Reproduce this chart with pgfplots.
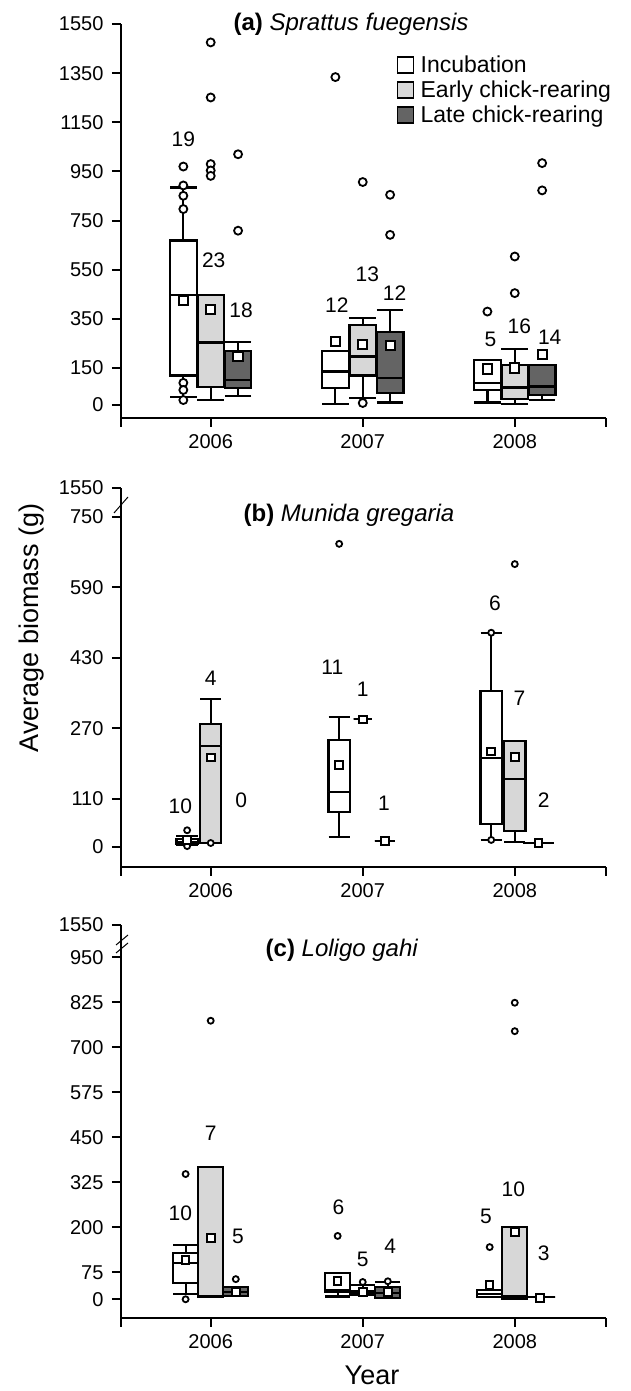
\documentclass[border=0pt]{standalone}
\usepackage{fontspec}
\setmainfont{Liberation Sans}
\usepackage{pgfplots}
\pgfplotsset{compat=1.18}
\usepgfplotslibrary{statistics}
\definecolor{lg}{RGB}{215,215,215}
\definecolor{dg}{RGB}{100,100,100}
\newcommand{\fs}[1]{\fontsize{#1}{#1}\selectfont}
\tikzset{nlab/.style={font=\fs{21}}}
% \bx{pos}{lw}{q1}{med}{q3}{uw}{fill}{extend}
\newcommand{\bx}[8]{\addplot[draw=black, line width=2.2pt, fill=#7,
  boxplot prepared={draw position=#1, lower whisker=#2, lower quartile=#3,
  median=#4, upper quartile=#5, upper whisker=#6, box extend=#8, whisker extend=#8}] coordinates {};}
\pgfplotsset{
  outl/.style={only marks, mark=*, mark size=4pt, mark options={fill=white, draw=black, line width=1.8pt}},
  mn/.style={only marks, mark=square*, mark size=4.6pt, mark options={fill=white, draw=black, line width=2pt}},
  panel/.style={
  scale only axis, width=485pt, xmin=-0.59, xmax=2.6,
  anchor=south west,
  axis x line=bottom, axis y line=left,
  axis line style={-, line width=2pt},
  xtick={-0.59,0,1,2,2.6}, xticklabels={,2006,2007,2008,},
  tick align=outside, major tick length=9pt,
  tick style={line width=2pt, black},
  tick label style={font=\fs{20}},
  xticklabel style={yshift=-4pt},
  yticklabel style={xshift=-5pt},
  /pgf/number format/assume math mode=true,
  boxplot/draw direction=y,
  clip=false,
}}
\begin{document}
\begin{tikzpicture}
\useasboundingbox (0,0) rectangle (630pt,1391pt);
% ---------------- panel (a)
\begin{axis}[panel, at={(121pt,973pt)}, height=394pt, ymin=-53, ymax=1550,
  ytick={0,150,350,550,750,950,1150,1350,1550},
  yticklabels={0,150,350,550,750,950,1150,1350,1550},
  legend style={at={(0.568,0.925)}, anchor=north west, draw=none, fill=none,
    font=\fs{23}, row sep=3pt, inner sep=0pt},
  legend cell align=left]
\addlegendimage{legend image code/.code={\draw[line width=1.5pt, fill=white] (0pt,-8pt) rectangle (16pt,8pt); \path (21pt,0pt);}}
\addlegendentry{Incubation}
\addlegendimage{legend image code/.code={\draw[line width=1.5pt, fill=lg] (0pt,-8pt) rectangle (16pt,8pt); \path (21pt,0pt);}}
\addlegendentry{Early chick-rearing}
\addlegendimage{legend image code/.code={\draw[line width=1.5pt, fill=dg] (0pt,-8pt) rectangle (16pt,8pt); \path (21pt,0pt);}}
\addlegendentry{Late chick-rearing}
\bx{-0.18}{31}{120}{446}{669}{885}{white}{0.175}
\bx{0}{21}{73}{254}{446}{446}{lg}{0.175}
\bx{0.18}{35}{69}{103}{220}{257}{dg}{0.175}
\bx{0.82}{5}{69}{136}{218}{218}{white}{0.175}
\bx{1.0}{28}{120}{197}{324}{353}{lg}{0.175}
\bx{1.18}{10}{48}{109}{296}{387}{dg}{0.175}
\bx{1.82}{10}{62}{89}{184}{184}{white}{0.175}
\bx{2.0}{5}{25}{71}{161}{227}{lg}{0.175}
\bx{2.18}{21}{42}{75}{161}{161}{dg}{0.175}
\addplot[outl] coordinates {(-0.18,970) (-0.18,893) (-0.18,851) (-0.18,797) (-0.18,90) (-0.18,61) (-0.18,20)
 (0,1475) (0,1251) (0,980) (0,954) (0,932) (0.18,1020) (0.18,709)
 (0.82,1334) (1.0,907) (1.0,8) (1.18,855) (1.18,692)
 (1.82,380) (2.0,604) (2.0,455) (2.18,984) (2.18,873)};
\addplot[mn] coordinates {(-0.18,425) (0,387) (0.18,197) (0.82,258) (1.0,245) (1.18,241) (1.82,146) (2.0,150) (2.18,204)};
\node[nlab] at (axis cs:-0.18,1079) {19};
\node[nlab] at (axis cs:0.02,587) {23};
\node[nlab] at (axis cs:0.2,387) {18};
\node[nlab] at (axis cs:0.83,408) {12};
\node[nlab] at (axis cs:1.03,532) {13};
\node[nlab] at (axis cs:1.21,455) {12};
\node[nlab] at (axis cs:1.84,268) {5};
\node[nlab] at (axis cs:2.03,322) {16};
\node[nlab] at (axis cs:2.23,275) {14};
\end{axis}
\node[font=\fs{24}] at (351pt,1367pt) {\textbf{(a)} \textit{Sprattus fuegensis}};
% ---------------- panel (b)
\begin{axis}[panel, at={(121pt,524pt)}, height=379pt, ymin=-45.5, ymax=816,
  ytick={0,110,270,430,590,750}, yticklabels={0,110,270,430,590,750},
  extra y ticks={816}, extra y tick labels={1550}]
\bx{-0.155}{4}{8}{12}{18}{25}{white}{0.14}
\bx{0}{9}{9}{230}{279}{336}{lg}{0.14}
\bx{0.845}{23}{80}{125}{243}{295}{white}{0.14}
\bx{1.0}{290}{290}{290}{290}{290}{lg}{0.12}
\bx{1.145}{14}{14}{14}{14}{14}{dg}{0.13}
\bx{1.845}{16}{52}{202}{355}{487}{white}{0.14}
\bx{2.0}{11}{36}{155}{241}{241}{lg}{0.14}
\bx{2.155}{9}{9}{9}{9}{9}{dg}{0.2}
\addplot[outl, mark size=3pt] coordinates {(-0.155,38) (-0.155,2) (0,9) (0.845,689) (1.845,487) (1.845,16) (2.0,643)};
\addplot[mn, mark size=3.8pt] coordinates {(-0.155,16) (0,203) (0.845,186) (1.0,290) (1.145,14) (1.845,217) (2.0,205) (2.155,9)};
\node[nlab] at (axis cs:-0.2,93) {10};
\node[nlab] at (axis cs:0,384) {4};
\node[nlab] at (axis cs:0.2,107) {0};
\node[nlab] at (axis cs:0.8,409) {11};
\node[nlab] at (axis cs:1.0,359) {1};
\node[nlab] at (axis cs:1.14,100) {1};
\node[nlab] at (axis cs:1.87,554) {6};
\node[nlab] at (axis cs:2.03,339) {7};
\node[nlab] at (axis cs:2.19,107) {2};
\end{axis}
\draw[line width=1pt] (114pt,878pt) -- (128pt,894pt);
\node[font=\fs{24}] at (349pt,876pt) {\textbf{(b)} \textit{Munida gregaria}};
% ---------------- panel (c)
\begin{axis}[panel, at={(121pt,73pt)}, height=393pt, ymin=-52, ymax=1040,
  ytick={0,75,200,325,450,575,700,825,950}, yticklabels={0,75,200,325,450,575,700,825,950},
  extra y ticks={1040}, extra y tick labels={1550}]
\bx{-0.165}{15}{46}{100}{128}{151}{white}{0.165}
\bx{0}{6}{6}{8}{367}{367}{lg}{0.165}
\bx{0.165}{9}{9}{20}{34}{34}{dg}{0.165}
\bx{0.835}{8}{20}{26}{73}{73}{white}{0.165}
\bx{1.0}{12}{12}{18}{23}{40}{lg}{0.165}
\bx{1.165}{4}{4}{17}{34}{48}{dg}{0.165}
\bx{1.835}{6}{6}{15}{26}{26}{white}{0.165}
\bx{2.0}{1}{1}{8}{201}{201}{lg}{0.165}
\bx{2.165}{6}{6}{6}{6}{6}{dg}{0.2}
\addplot[outl, mark size=3pt] coordinates {(-0.165,348) (-0.165,0) (0,774) (0.165,56) (0.835,176) (1.0,48) (1.165,50) (1.835,145) (2.0,824) (2.0,745)};
\addplot[mn, mark size=3.8pt] coordinates {(-0.165,109) (0,170) (0.165,20) (0.835,51) (1.0,20) (1.165,20) (1.835,40) (2.0,187) (2.165,4)};
\node[nlab] at (axis cs:-0.2,239) {10};
\node[nlab] at (axis cs:0.0,462) {7};
\node[nlab] at (axis cs:0.18,174) {5};
\node[nlab] at (axis cs:0.84,255) {6};
\node[nlab] at (axis cs:1.0,112) {5};
\node[nlab] at (axis cs:1.18,146) {4};
\node[nlab] at (axis cs:1.81,230) {5};
\node[nlab] at (axis cs:1.99,305) {10};
\node[nlab] at (axis cs:2.19,128) {3};
\end{axis}
\draw[line width=1pt] (116pt,446pt) -- (128pt,456pt);
\draw[line width=1pt] (116pt,438pt) -- (128pt,448pt);
\node[font=\fs{24}] at (342pt,441pt) {\textbf{(c)} \textit{Loligo gahi}};
% ---------------- shared labels
\node[font=\fs{27}, rotate=90] at (32pt,763pt) {Average biomass (g)};
\node[font=\fs{27}] at (372pt,16pt) {Year};
\end{tikzpicture}
\end{document}
